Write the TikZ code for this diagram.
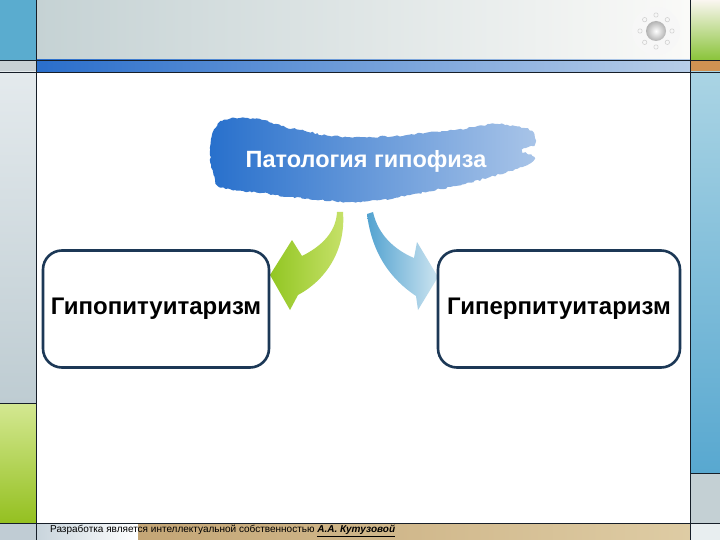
\documentclass[tikz,border=0pt]{standalone}
\usepackage{fontspec}
\setmainfont{Liberation Sans}
\usetikzlibrary{decorations.pathmorphing}

\definecolor{linedark}{RGB}{22,30,40}
\definecolor{boxnavy}{RGB}{28,56,86}
\definecolor{brushdark}{RGB}{40,112,204}
\definecolor{brushlight}{RGB}{168,196,232}
\definecolor{greenhead}{RGB}{146,198,34}
\definecolor{greentail}{RGB}{200,226,108}
\definecolor{bluetail}{RGB}{82,162,208}
\definecolor{bluehead}{RGB}{204,228,240}

\begin{document}
\begin{tikzpicture}[x=1pt, y=-1pt, line join=round,
        pitbox/.style={draw=boxnavy, line width=2.6pt, rounded corners=19pt, fill=white,
            minimum height=117pt, inner sep=0pt, font=\bfseries\fontsize{24}{27}\selectfont},
        rule/.style={draw=linedark, line width=0.8pt}]
        \useasboundingbox (0,0) rectangle (720,540);
        \pgfmathsetseed{7}

        % Left column
        \fill[color={rgb,255:red,90;green,172;blue,207}] (0,0) rectangle (36,60);
        \fill[color={rgb,255:red,200;green,208;blue,212}] (0,60) rectangle (36,72);
        \shade[top color={rgb,255:red,228;green,234;blue,237}, bottom color={rgb,255:red,190;green,204;blue,210}] (0,72) rectangle (36,403);
        \shade[top color={rgb,255:red,212;green,232;blue,146}, bottom color={rgb,255:red,148;green,192;blue,32}] (0,403) rectangle (36,523);
        \fill[color={rgb,255:red,192;green,204;blue,212}] (0,523) rectangle (36,540);

        % Top band
        \shade[left color={rgb,255:red,197;green,210;blue,212}, right color={rgb,255:red,250;green,250;blue,248}] (36,0) rectangle (690,60);
        \shade[left color={rgb,255:red,42;green,110;blue,203}, right color={rgb,255:red,184;green,206;blue,232}] (36,60) rectangle (690,72);

        % Right column
        \shade[top color={rgb,255:red,250;green,246;blue,240}, bottom color={rgb,255:red,138;green,196;blue,58}] (690,0) rectangle (720,60);
        \fill[color={rgb,255:red,208;green,146;blue,82}] (690,60) rectangle (720,72);
        \shade[top color={rgb,255:red,170;green,212;blue,228}, bottom color={rgb,255:red,88;green,168;blue,208}] (690,72) rectangle (720,473);
        \fill[color={rgb,255:red,196;green,208;blue,212}] (690,473) rectangle (720,523);
        \fill[color={rgb,255:red,232;green,238;blue,240}] (690,523) rectangle (720,540);

        % Footer
        \shade[left color={rgb,255:red,200;green,212;blue,220}, right color=white] (36,523) rectangle (138,540);
        \shade[left color={rgb,255:red,196;green,166;blue,118}, right color={rgb,255:red,222;green,204;blue,164}] (138,523) rectangle (690,540);

        % Content area
        \fill[white] (36,72) rectangle (690,523);

        % Rules
        \draw[rule] (36,0) -- (36,540);
        \draw[rule] (690,0) -- (690,540);
        \draw[rule] (0,60) -- (720,60);
        \draw[rule] (0,72) -- (720,72);
        \draw[rule] (0,523) -- (720,523);
        \draw[rule] (0,403) -- (36,403);
        \draw[rule] (690,473) -- (720,473);

        % Sun
        \fill[gray!6] (656,31) circle (24);
        \shade[inner color=white, outer color=gray!60] (656,31) circle (10);
        \foreach \a in {0,45,...,315}
            \draw[gray!35, line width=0.6pt] ([shift={(\a:16)}]656,31) circle (2.2);

        % Brush
        \shade[decorate, decoration={random steps, segment length=2.5pt, amplitude=0.9pt},
            left color=brushdark, right color=brushlight]
            plot[smooth cycle] coordinates {(213,132) (222,121) (240,118) (262,120) (285,127)
            (305,131) (330,136) (360,137) (395,136) (425,133) (455,130) (475,127) (495,124)
            (515,126) (532,131) (535,143) (522,150) (534,157) (527,165) (510,171) (490,177)
            (465,184) (440,189) (410,195) (380,200) (350,202) (320,200) (290,197) (262,193)
            (235,190) (218,186) (213,172) (210,155)};

        % Title
        \node[text=white, font=\bfseries\fontsize{23.5}{27}\selectfont] (title) at (366,161) {Патология гипофиза};

        % Arrows
        \shade[left color=greenhead, right color=greentail]
            (337,212) -- (343,212) .. controls (346,250) and (326,280) .. (298,295)
            -- (290,310) -- (270,275) -- (292,240) -- (302,256)
            .. controls (322,246) and (336,232) .. (337,212) -- cycle;
        \shade[left color=bluetail, right color=bluehead]
            (367,214) -- (373,212) .. controls (378,235) and (395,250) .. (414,258)
            -- (417,242) -- (438,277) -- (418,310) -- (416,296)
            .. controls (392,280) and (372,255) .. (367,214) -- cycle;

        % Boxes
        \node[pitbox, minimum width=226pt] (hypo) at (156,309) {Гипопитуитаризм};
        \node[pitbox, minimum width=242pt] (hyper) at (559,309) {Гиперпитуитаризм};

        % Footer text
        \node[anchor=west, inner sep=0pt, font=\fontsize{10}{12}\selectfont] (credit) at (50,531)
            {Разработка является интеллектуальной собственностью \underline{\textbf{\textit{А.А. Кутузовой}}}};
\end{tikzpicture}
\end{document}
